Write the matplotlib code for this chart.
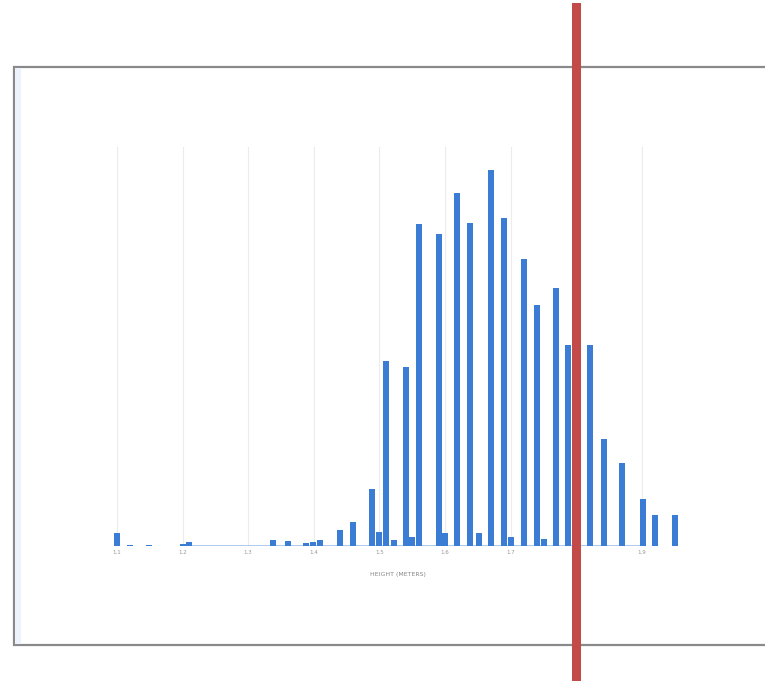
import numpy as np
import matplotlib.pyplot as plt
from matplotlib.patches import Rectangle

# Histogram of heights (bin centre in metres, count)
heights_m = [1.100, 1.120, 1.149, 1.201, 1.210, 1.338, 1.361, 1.388, 1.399, 1.409,
             1.440, 1.460, 1.489, 1.499, 1.510, 1.522, 1.541, 1.550, 1.560, 1.591,
             1.600, 1.618, 1.638, 1.652, 1.670, 1.690, 1.701, 1.720, 1.740, 1.751,
             1.769, 1.787, 1.821, 1.842, 1.870, 1.902, 1.920, 1.951]
counts = [13, 1.5, 1.5, 2, 4, 6, 5, 3, 4, 6,
          16, 24, 57, 14, 185, 6, 179, 9, 322, 312,
          13, 353, 323, 13, 376, 328, 9, 287, 241, 7,
          258, 201, 201, 107, 83, 47, 31, 31]

tick_vals = [1.1, 1.2, 1.3, 1.4, 1.5, 1.6, 1.7, 1.8, 1.9]
tick_labels = ['1.1', '1.2', '1.3', '1.4', '1.5', '1.6', '1.7', '1.8', '1.9']
marker_height = 1.8

W, H = 765, 681
fig = plt.figure(figsize=(W / 100, H / 100), dpi=100)

# outer frame of the screenshot, drawn in a background axes
bg = fig.add_axes([0, 0, 1, 1], zorder=-1)
bg.set_xlim(0, W)
bg.set_ylim(H, 0)
bg.axis('off')
bg.add_patch(Rectangle((14, 67), 760, 578, facecolor='white',
                       edgecolor='#8a8a8a', lw=1.6))
bg.add_patch(Rectangle((15.5, 68), 6, 576, facecolor='#eef2fc', edgecolor='none'))

ax = fig.add_axes([105 / W, 1 - 546 / H, 585 / W, 399 / H])
ax.patch.set_alpha(0)

px_per_m = 656
ax.set_xlim(1.1 - 12 / px_per_m, 1.1 + 573 / px_per_m)
ax.set_ylim(0, 399)

for t in tick_vals:
    ax.axvline(t, color='#ececec', lw=0.8, zorder=0)

# faint baseline
ax.plot([heights_m[3], heights_m[-3]], [0, 0], color='#a9c4ec', lw=2, zorder=1,
        solid_capstyle='butt')

ax.bar(heights_m, counts, width=0.0095, color='#3b7dd5', zorder=2)

for s in ax.spines.values():
    s.set_visible(False)
ax.set_yticks([])
ax.set_xticks(tick_vals)
ax.set_xticklabels(tick_labels, fontsize=4, color='#999999')
ax.tick_params(axis='x', length=0, pad=3)
ax.set_xlabel('HEIGHT (METERS)', fontsize=4.5, color='#888888', labelpad=12)

# red marker line
ax.axvline(marker_height, ymin=(546 - 681) / 399, ymax=(546 - 7) / 399,
           color='#c24a48', lw=6.5, clip_on=False, zorder=5)

fig.savefig('out.png', dpi=100)
